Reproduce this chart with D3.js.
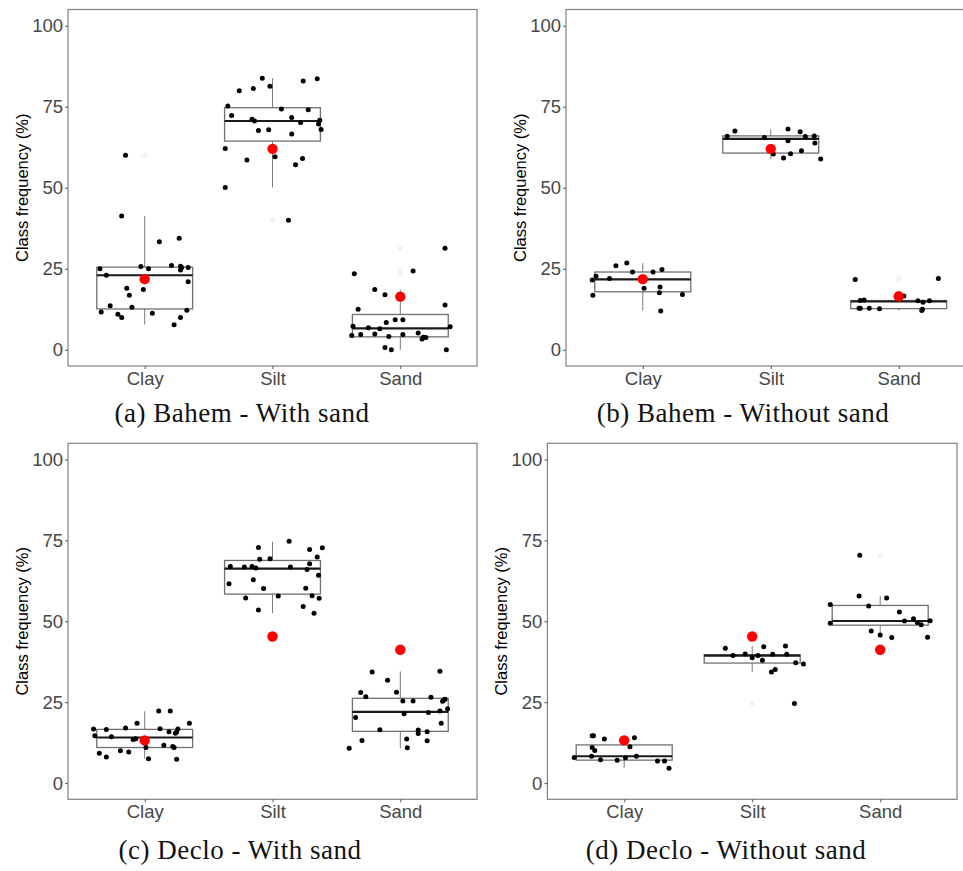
<!DOCTYPE html>
<html>
<head>
<meta charset="utf-8">
<script src="https://cdn.jsdelivr.net/npm/d3@7"></script>
<style>
  body { margin: 0; background: #fff; }
  svg { display: block; }
  .tick text { font-family: "Liberation Sans", Arial, sans-serif; }
</style>
</head>
<body>
<div id="app"></div>
<script>
const categories = ["Clay", "Silt", "Sand"];
const yTicks = [0, 25, 50, 75, 100];

// jittered points: [offset in category widths, value %]
const aClay = [[-0.15,60],[-0.18,41.3],[0.115,33.3],[0.27,34.4],[-0.35,25.0],[-0.30,23.0],[-0.03,25.7],[0.03,25.0],[0.21,26.0],[0.28,25.8],[0.29,25.4],[0.28,24.6],[0.34,25.4],[0.34,21.0],[-0.14,19.0],[-0.12,16.8],[-0.01,18.6],[-0.27,13.6],[-0.10,13.1],[-0.34,11.7],[-0.21,11.0],[-0.18,10.0],[0.06,11.3],[0.33,12.2],[0.28,10.0],[0.23,7.7]];
const aSilt = [[-0.08,83.8],[-0.02,81.3],[-0.15,80.6],[-0.26,79.9],[-0.35,75.2],[-0.32,72.3],[-0.16,71.1],[-0.14,70.6],[-0.11,67.7],[-0.03,67.9],[-0.37,62.1],[0.02,59.6],[-0.20,58.6],[-0.37,50.1],[0.24,82.9],[0.35,83.6],[0.07,74.3],[0.28,74.1],[0.15,71.7],[0.22,70.1],[0.37,70.8],[0.36,69.7],[0.38,68.0],[0.15,66.6],[0.235,59.0],[0.18,57.1],[0.125,40.0]];
const aSand = [[0.35,31.3],[-0.36,23.5],[0.10,24.3],[-0.20,18.6],[-0.12,17.0],[-0.33,12.5],[0.35,13.8],[-0.11,8.4],[-0.04,9.3],[0.02,9.3],[-0.37,7.3],[-0.25,6.8],[-0.16,6.5],[0.39,7.1],[-0.38,4.4],[-0.31,4.7],[-0.20,4.9],[-0.09,4.1],[0.02,4.7],[0.14,5.2],[0.17,3.3],[0.18,3.9],[0.20,3.8],[-0.12,0.7],[-0.07,0],[0.36,0]];

const bClay = [[-0.21,25.9],[-0.125,26.8],[0.15,24.8],[-0.365,22.7],[-0.395,21.5],[-0.26,22.0],[-0.08,24.0],[0.08,24.0],[0.01,19.0],[0.135,19.4],[0.13,17.6],[-0.39,16.8],[0.31,17.1],[0.14,12.0]];
const bSilt = [[-0.34,65.9],[-0.28,67.5],[-0.05,65.5],[0.135,68.1],[0.23,67.3],[0.27,65.8],[0.34,66.0],[0.135,64.5],[0.345,63.8],[0.24,61.4],[0.155,60.5],[0.10,59.2],[0.02,60.4],[0.39,58.9]];
const bSand = [[-0.34,21.7],[0.31,22.0],[-0.30,15.2],[-0.27,15.4],[0.04,16.6],[0.15,15.1],[0.19,14.7],[0.24,15.1],[-0.31,12.8],[-0.30,12.8],[-0.23,12.8],[-0.15,12.7],[0.18,12.1],[0.185,12.5]];

const cClay = [[0.11,22.3],[0.20,22.3],[-0.06,18.5],[0.35,18.5],[-0.40,16.7],[-0.30,16.6],[-0.15,17.0],[0.12,16.8],[0.26,16.7],[0.19,15.9],[0.25,15.8],[0.24,15.4],[-0.39,14.6],[-0.26,14.3],[-0.09,13.5],[-0.07,13.7],[0.005,12.3],[0.01,11.0],[0.15,11.7],[0.22,11.3],[0.23,11.0],[-0.19,10.0],[-0.125,9.6],[-0.355,9.2],[-0.30,8.1],[0.03,7.5],[0.25,7.4]];
const cSilt = [[-0.11,72.8],[-0.10,69.2],[-0.02,69.3],[-0.33,66.9],[-0.22,66.8],[-0.16,66.9],[-0.13,66.5],[-0.34,61.6],[-0.15,62.8],[-0.07,60.1],[-0.21,57.2],[0.045,57.8],[-0.11,53.5],[0.13,74.7],[0.29,72.2],[0.39,72.7],[0.35,69.9],[0.29,67.8],[0.14,66.8],[0.27,66.0],[0.36,64.2],[0.26,60.2],[0.31,57.9],[0.365,57.1],[0.24,54.6],[0.325,52.5]];
const cSand = [[-0.22,34.3],[0.31,34.6],[-0.10,31.8],[-0.31,28.0],[-0.27,26.7],[-0.03,28.1],[0.02,25.4],[0.10,25.4],[0.24,26.5],[0.33,25.3],[0.34,25.7],[0.35,25.9],[0.37,23.0],[0.31,22.3],[0.22,21.8],[0.03,21.4],[-0.35,20.3],[0.32,18.5],[-0.16,16.5],[0.14,16.4],[0.14,15.3],[0.21,15.9],[-0.30,13.2],[0.05,13.6],[0.21,13.1],[-0.40,10.8],[0.055,10.9]];

const dClay = [[-0.25,14.6],[-0.24,14.6],[-0.155,13.6],[0.08,14.0],[-0.25,11.0],[-0.23,10.1],[0.045,11.2],[-0.39,7.9],[-0.255,8.3],[-0.185,7.2],[-0.055,7.1],[0.01,7.8],[0.095,8.3],[0.26,6.8],[0.315,6.8],[0.35,4.6]];
const dSilt = [[-0.21,41.7],[-0.15,39.4],[-0.055,39.9],[0,38.7],[0.045,39.4],[0.09,42.1],[0.08,38.0],[0.16,39.8],[0.26,42.4],[0.27,39.8],[0.34,37.2],[0.40,36.8],[0.15,34.3],[0.18,35.1],[0.33,24.6]];
const dSand = [[-0.16,70.4],[-0.165,57.8],[0.05,57.2],[-0.39,55.2],[-0.09,54.7],[0.15,52.9],[0.19,50.1],[0.26,50.8],[0.29,49.6],[0.32,48.9],[0.39,50.2],[-0.39,49.4],[-0.07,47.0],[0,45.8],[0.09,45.0],[0.37,45.1]];

// box stats per category: [lower whisker, q1, median, q3, upper whisker]
const aBox = [[7.8,12.6,23.0,25.5,41.3],[50.1,64.4,70.6,74.7,83.8],[0,4.0,6.6,10.9,18.6]];
const bBox = [[12.1,17.9,21.7,24.0,26.7],[58.9,60.7,65.1,66.0,68.0],[12.1,12.7,14.9,15.2,15.4]];
const cBox = [[7.5,11.0,14.1,16.6,22.2],[52.5,58.4,66.3,68.8,74.6],[10.8,16.0,22.0,26.2,34.5]];
const dBox = [[4.8,7.1,8.3,11.8,14.6],[34.3,37.1,39.4,39.7,42.4],[45.8,48.8,50.1,54.9,57.8]];

// red reference values
const aRed = [21.8, 62.0, 16.4];
const bRed = [21.8, 62.0, 16.5];
const cRed = [13.2, 45.3, 41.2];
const dRed = [13.2, 45.3, 41.2];

// faint boxplot outliers
const aOut = [[60], [40], [31.3, 24.3, 23.5]];
const bOut = [[], [], [21.7, 22.0]];
const cOut = [[], [], []];
const dOut = [[], [24.6], [70.4]];

const captions = ["(a) Bahem - With sand", "(b) Bahem - Without sand", "(c) Declo - With sand", "(d) Declo - Without sand"];

const panels = [
  { pts: [aClay, aSilt, aSand], box: aBox, red: aRed, out: aOut, cap: captions[0],
    left: 68, right: 477, top: 9.5, bottom: 366, capX: 242, capY: 422 },
  { pts: [bClay, bSilt, bSand], box: bBox, red: bRed, out: bOut, cap: captions[1],
    left: 566, right: 975.5, top: 9.5, bottom: 366, capX: 743, capY: 422 },
  { pts: [cClay, cSilt, cSand], box: cBox, red: cRed, out: cOut, cap: captions[2],
    left: 68, right: 477, top: 443.3, bottom: 799.3, capX: 240, capY: 859 },
  { pts: [dClay, dSilt, dSand], box: dBox, red: dRed, out: dOut, cap: captions[3],
    left: 547.4, right: 957, top: 443.3, bottom: 799.3, capX: 726, capY: 859 }
];

const svg = d3.select("#app").append("svg")
  .attr("width", 963).attr("height", 871);
svg.append("rect").attr("width", 963).attr("height", 871).attr("fill", "#fff");

panels.forEach(p => {
  const g = svg.append("g");
  const x = d3.scalePoint().domain(categories).range([p.left, p.right]).padding(0.6);
  const y = d3.scaleLinear().domain([-5, 105]).range([p.bottom, p.top]);
  const step = x.step();
  const bw = step * 0.75;

  // 边框
  g.append("rect")
    .attr("x", p.left).attr("y", p.top)
    .attr("width", p.right - p.left).attr("height", p.bottom - p.top)
    .attr("fill", "none").attr("stroke", "#808080").attr("stroke-width", 1.2);

  // axes
  const ya = g.append("g").attr("transform", `translate(${p.left},0)`)
    .call(d3.axisLeft(y).tickValues(yTicks).tickSize(3).tickPadding(2));
  const xa = g.append("g").attr("transform", `translate(0,${p.bottom})`)
    .call(d3.axisBottom(x).tickSize(3).tickPadding(3));
  [ya, xa].forEach(a => {
    a.select(".domain").remove();
    a.selectAll(".tick line").attr("stroke", "#555");
    a.selectAll(".tick text").attr("fill", "#474747").style("font-size", "18.5px");
  });

  g.append("text")
    .attr("transform", `translate(${p.left - 40},${(p.top + p.bottom) / 2}) rotate(-90)`)
    .attr("text-anchor", "middle")
    .style("font-family", "'Liberation Sans', Arial, sans-serif")
    .style("font-size", "16.5px")
    .attr("fill", "#000")
    .text("Class frequency (%)");

  // boxplots
  categories.forEach((c, i) => {
    const [lo, q1, md, q3, hi] = p.box[i];
    const cx = x(c);
    g.append("line").attr("x1", cx).attr("x2", cx).attr("y1", y(hi)).attr("y2", y(q3))
      .attr("stroke", "#7a7a7a").attr("stroke-width", 1);
    g.append("line").attr("x1", cx).attr("x2", cx).attr("y1", y(q1)).attr("y2", y(lo))
      .attr("stroke", "#7a7a7a").attr("stroke-width", 1);
    g.append("rect").attr("x", cx - bw / 2).attr("width", bw)
      .attr("y", y(q3)).attr("height", y(q1) - y(q3))
      .attr("fill", "#fff").attr("stroke", "#707070").attr("stroke-width", 1.3);
    g.append("line").attr("x1", cx - bw / 2).attr("x2", cx + bw / 2)
      .attr("y1", y(md)).attr("y2", y(md))
      .attr("stroke", "#1a1a1a").attr("stroke-width", 2.2);
    g.selectAll(null).data(p.out[i]).join("circle")
      .attr("cx", cx).attr("cy", d => y(d)).attr("r", 2.4).attr("fill", "#f0f0f0");
  });

  // jittered points
  categories.forEach((c, i) => {
    g.selectAll(null).data(p.pts[i]).join("circle")
      .attr("cx", d => x(c) + d[0] * step)
      .attr("cy", d => y(d[1]))
      .attr("r", 2.5)
      .attr("fill", "#000");
  });

  g.selectAll(null).data(p.red).join("circle")
    .attr("cx", (d, i) => x(categories[i]))
    .attr("cy", d => y(d))
    .attr("r", 5.2)
    .attr("fill", "#ff0000");

  svg.append("text")
    .attr("x", p.capX).attr("y", p.capY)
    .attr("text-anchor", "middle")
    .style("font-family", "'Liberation Serif', 'Times New Roman', serif")
    .style("font-size", "27px")
    .style("letter-spacing", "0.5px")
    .attr("fill", "#111")
    .text(p.cap);
});
</script>
</body>
</html>
